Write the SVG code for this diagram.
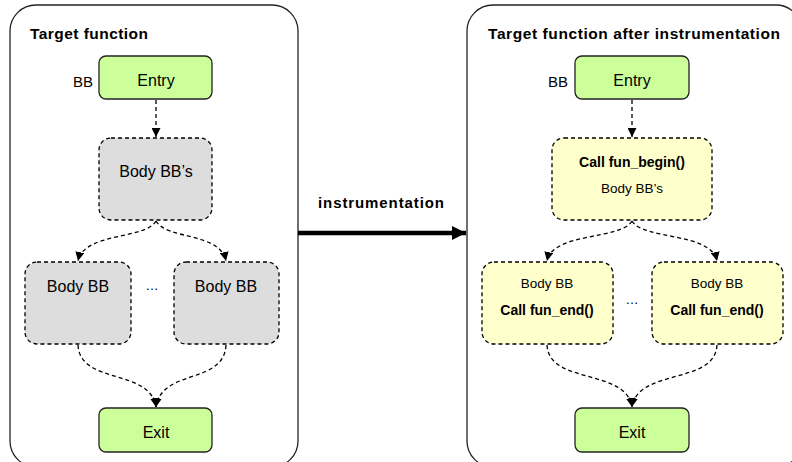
<svg xmlns="http://www.w3.org/2000/svg" width="792" height="462" viewBox="0 0 792 462">
<style>
  text { font-family: "Liberation Sans", Arial, sans-serif; fill: #000; }
  .title { font-size: 15.5px; font-weight: bold; }
  .lbl { font-size: 16px; text-anchor: middle; }
  .slbl { font-size: 13.5px; text-anchor: middle; }
  .blbl { font-size: 14px; font-weight: bold; text-anchor: middle; }
  .panel { fill: #fff; stroke: #222; stroke-width: 1.3; }
  .term { fill: #ccff99; stroke: #222; stroke-width: 1.3; }
  .body { fill: #dddddd; stroke: #000; stroke-width: 1.3; stroke-dasharray: 4 3; }
  .ybody { fill: #ffffcc; stroke: #000; stroke-width: 1.3; stroke-dasharray: 4 3; }
  .edge { fill: none; stroke: #000; stroke-width: 1.3; stroke-dasharray: 4 3; marker-end: url(#ah); }
</style>
<defs>
  <marker id="ah" viewBox="0 0 10 10" refX="10" refY="5" markerWidth="9" markerHeight="9" markerUnits="userSpaceOnUse" orient="auto">
    <path d="M0,0 L10,5 L0,10 z" fill="#000"/>
  </marker>
  <marker id="big" viewBox="0 0 10 10" refX="10" refY="5" markerWidth="14" markerHeight="14" markerUnits="userSpaceOnUse" orient="auto">
    <path d="M0,0 L10,5 L0,10 z" fill="#000"/>
  </marker>
</defs>

<g id="left-panel">
  <rect class="panel" x="10" y="5" width="288" height="462" rx="26"/>
  <text class="title" x="30" y="39" textLength="118" lengthAdjust="spacing">Target function</text>
</g>
<g id="right-panel">
  <rect class="panel" x="467" y="5" width="335" height="462" rx="26"/>
  <text class="title" x="488" y="39" textLength="292" lengthAdjust="spacing">Target function after instrumentation</text>
</g>

<g id="connectors">
  <path class="edge" d="M156,100 L156,137"/>
  <path class="edge" d="M156,221 C145,240 84,232 78,261"/>
  <path class="edge" d="M156,221 C167,240 220,232 226,261"/>
  <path class="edge" d="M78,345 C80,385 150,368 156,407"/>
  <path class="edge" d="M226,345 C224,385 162,368 156,407"/>

  <path class="edge" d="M632,100 L632,137"/>
  <path class="edge" d="M632,221 C621,240 553,232 547,261"/>
  <path class="edge" d="M632,221 C643,240 711,232 717,261"/>
  <path class="edge" d="M547,345 C549,385 626,368 632,407"/>
  <path class="edge" d="M717,345 C715,385 638,368 632,407"/>

  <path d="M298,233 L466,233" stroke="#000" stroke-width="4.5" fill="none" marker-end="url(#big)"/>
  <text x="318" y="208" style="font-size:15px;font-weight:bold" textLength="126" lengthAdjust="spacing">instrumentation</text>
</g>

<g id="l-entry">
  <text x="83" y="87" style="font-size:15px;text-anchor:middle">BB</text>
  <rect class="term" x="99" y="56" width="113" height="43" rx="7"/>
  <text class="lbl" x="156" y="86">Entry</text>
</g>
<g id="l-body">
  <rect class="body" x="99" y="138" width="113" height="82" rx="12"/>
  <text class="lbl" x="156" y="177">Body BB’s</text>
</g>
<g id="l-bb1">
  <rect class="body" x="25" y="262" width="106" height="82" rx="12"/>
  <text class="lbl" x="78" y="292">Body BB</text>
</g>
<g id="l-dots"><text class="slbl" x="152" y="290" style="font-size:13px">…</text></g>
<g id="l-bb2">
  <rect class="body" x="174" y="262" width="105" height="82" rx="12"/>
  <text class="lbl" x="226" y="292">Body BB</text>
</g>
<g id="l-exit">
  <rect class="term" x="99" y="408" width="113" height="44" rx="7"/>
  <text class="lbl" x="156" y="438">Exit</text>
</g>

<g id="r-entry">
  <text x="558" y="87" style="font-size:15px;text-anchor:middle">BB</text>
  <rect class="term" x="575" y="56" width="114" height="43" rx="7"/>
  <text class="lbl" x="632" y="86">Entry</text>
</g>
<g id="r-body">
  <rect class="ybody" x="552" y="138" width="160" height="82" rx="12"/>
  <text class="blbl" x="632" y="167">Call fun_begin()</text>
  <text class="slbl" x="632" y="193">Body BB’s</text>
</g>
<g id="r-bb1">
  <rect class="ybody" x="482" y="262" width="131" height="82" rx="12"/>
  <text class="slbl" x="547" y="288">Body BB</text>
  <text class="blbl" x="547" y="315">Call fun_end()</text>
</g>
<g id="r-dots"><text class="slbl" x="632" y="304" style="font-size:13px">…</text></g>
<g id="r-bb2">
  <rect class="ybody" x="652" y="262" width="131" height="82" rx="12"/>
  <text class="slbl" x="717" y="288">Body BB</text>
  <text class="blbl" x="717" y="315">Call fun_end()</text>
</g>
<g id="r-exit">
  <rect class="term" x="575" y="408" width="114" height="44" rx="7"/>
  <text class="lbl" x="632" y="438">Exit</text>
</g>
</svg>
